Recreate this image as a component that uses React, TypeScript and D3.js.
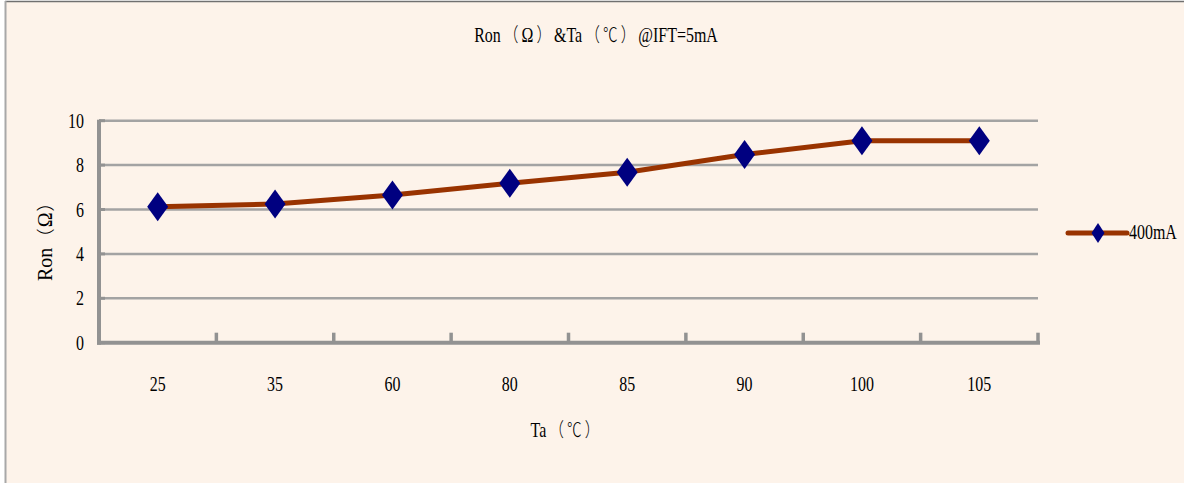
import React from "react";
import * as d3 from "d3";

const categories = ["25", "35", "60", "80", "85", "90", "100", "105"];
const seriesName = "400mA";
const values = [6.12, 6.25, 6.65, 7.18, 7.68, 8.48, 9.1, 9.1];
const yTicks = [0, 2, 4, 6, 8, 10];
const title = "Ron（Ω）&Ta（℃）@IFT=5mA";
const xTitle = "Ta（℃）";
const yTitle = "Ron（Ω）";

const W = 1184;
const H = 483;
const FONT = "'Liberation Serif', 'Noto Sans CJK SC', serif";
const CJK = "'Noto Sans CJK SC', 'Liberation Serif', serif";
const WIDE = "（）℃";

function T({ x, y, anchor = "middle", rotate = 0, size = 21, sx = 0.76, gap = 4, children }: any) {
  const chars = Array.from(String(children));
  const parts: { t: string; wide: boolean; dx: number }[] = [];
  chars.forEach((ch, i) => {
    const wide = WIDE.includes(ch);
    const prevWide = i > 0 && WIDE.includes(chars[i - 1]);
    const dx = i > 0 && (wide || prevWide) ? gap : 0;
    const last = parts[parts.length - 1];
    if (last && !wide && !last.wide && dx === 0) last.t += ch;
    else parts.push({ t: ch, wide, dx });
  });
  return (
    <g transform={`translate(${x},${y}) rotate(${rotate}) scale(${sx},1)`}>
      <text x={0} y={0} textAnchor={anchor} fontFamily={FONT} fontSize={size} fill="#000">
        {parts.map((s, i) => (
          <tspan
            key={i}
            dx={s.dx || undefined}
            fontFamily={s.wide ? CJK : FONT}
            fontWeight={s.wide ? 300 : 400}
            fontSize={s.wide ? size * 0.92 : size}
          >
            {s.t}
          </tspan>
        ))}
      </text>
    </g>
  );
}

function diamond(cx: number, cy: number, hw: number, hh: number) {
  return `M${cx},${cy - hh}L${cx + hw},${cy}L${cx},${cy + hh}L${cx - hw},${cy}Z`;
}

export default function App() {
  const x = d3.scaleBand<string>().domain(categories).range([99, 1038]).padding(0);
  const y = d3.scaleLinear().domain([0, 10]).range([342.7, 120.7]);
  const pts: [number, number][] = values.map((v, i) => [
    (x(categories[i]) as number) + x.bandwidth() / 2,
    y(v),
  ]);
  const line = d3.line<[number, number]>()(pts) as string;
  const boundaries = categories.map((c) => x(c) as number).concat([x.range()[1]]);
  const axisColor = "#929292";
  const gridColor = "#a3a3a3";

  return (
    <svg
      width={W}
      height={H}
      style={{ position: "absolute", left: 0, top: 0, display: "block" }}
    >
      <rect x={0} y={0} width={W} height={H} fill="#ffffff" />
      <rect x={5} y={1} width={W - 5} height={H - 1} fill="#fdf3ea" />
      <line x1={5} y1={1.5} x2={W} y2={1.5} stroke="#707070" strokeWidth={1.5} />
      <line x1={5.5} y1={1} x2={5.5} y2={H} stroke="#a8a8a8" strokeWidth={2} />

      {/* title */}
      <T x={596} y={42}>{title}</T>

      {/* gridlines */}
      {yTicks.filter((t) => t > 0).map((t) => (
        <line key={t} x1={99} x2={1038} y1={y(t)} y2={y(t)} stroke={gridColor} strokeWidth={2.5} />
      ))}

      {/* y axis */}
      <line x1={99} x2={99} y1={y(10) - 1} y2={y(0) + 2} stroke={axisColor} strokeWidth={4} />
      {yTicks.map((t) => (
        <line key={"yt" + t} x1={99} x2={105} y1={y(t)} y2={y(t)} stroke={axisColor} strokeWidth={3} />
      ))}
      {yTicks.map((t) => (
        <T key={"yl" + t} x={84} y={y(t) + 7} anchor="end">{String(t)}</T>
      ))}

      {/* x axis */}
      <line x1={97} x2={1040} y1={y(0)} y2={y(0)} stroke={axisColor} strokeWidth={4} />
      {boundaries.map((b, i) => (
        <line key={"xt" + i} x1={b} x2={b} y1={y(0)} y2={y(0) - 10} stroke={axisColor} strokeWidth={3.5} />
      ))}
      {categories.map((c) => (
        <T key={"xl" + c} x={(x(c) as number) + x.bandwidth() / 2} y={391}>{c}</T>
      ))}

      {/* axis titles */}
      <T x={565} y={437}>{xTitle}</T>
      <T x={52} y={237} rotate={-90} size={20} sx={1} gap={1}>{yTitle}</T>

      {/* series */}
      <path d={line} fill="none" stroke="#993300" strokeWidth={5} strokeLinejoin="round" />
      {pts.map(([px, py], i) => (
        <path key={"m" + i} d={diamond(px, py, 10.5, 14.5)} fill="#000080" />
      ))}

      {/* legend */}
      <line x1={1068} x2={1127} y1={233} y2={233} stroke="#993300" strokeWidth={5} strokeLinecap="round" />
      <path d={diamond(1098, 233, 6.5, 10)} fill="#000080" />
      <T x={1129} y={239} anchor="start">{seriesName}</T>
    </svg>
  );
}
